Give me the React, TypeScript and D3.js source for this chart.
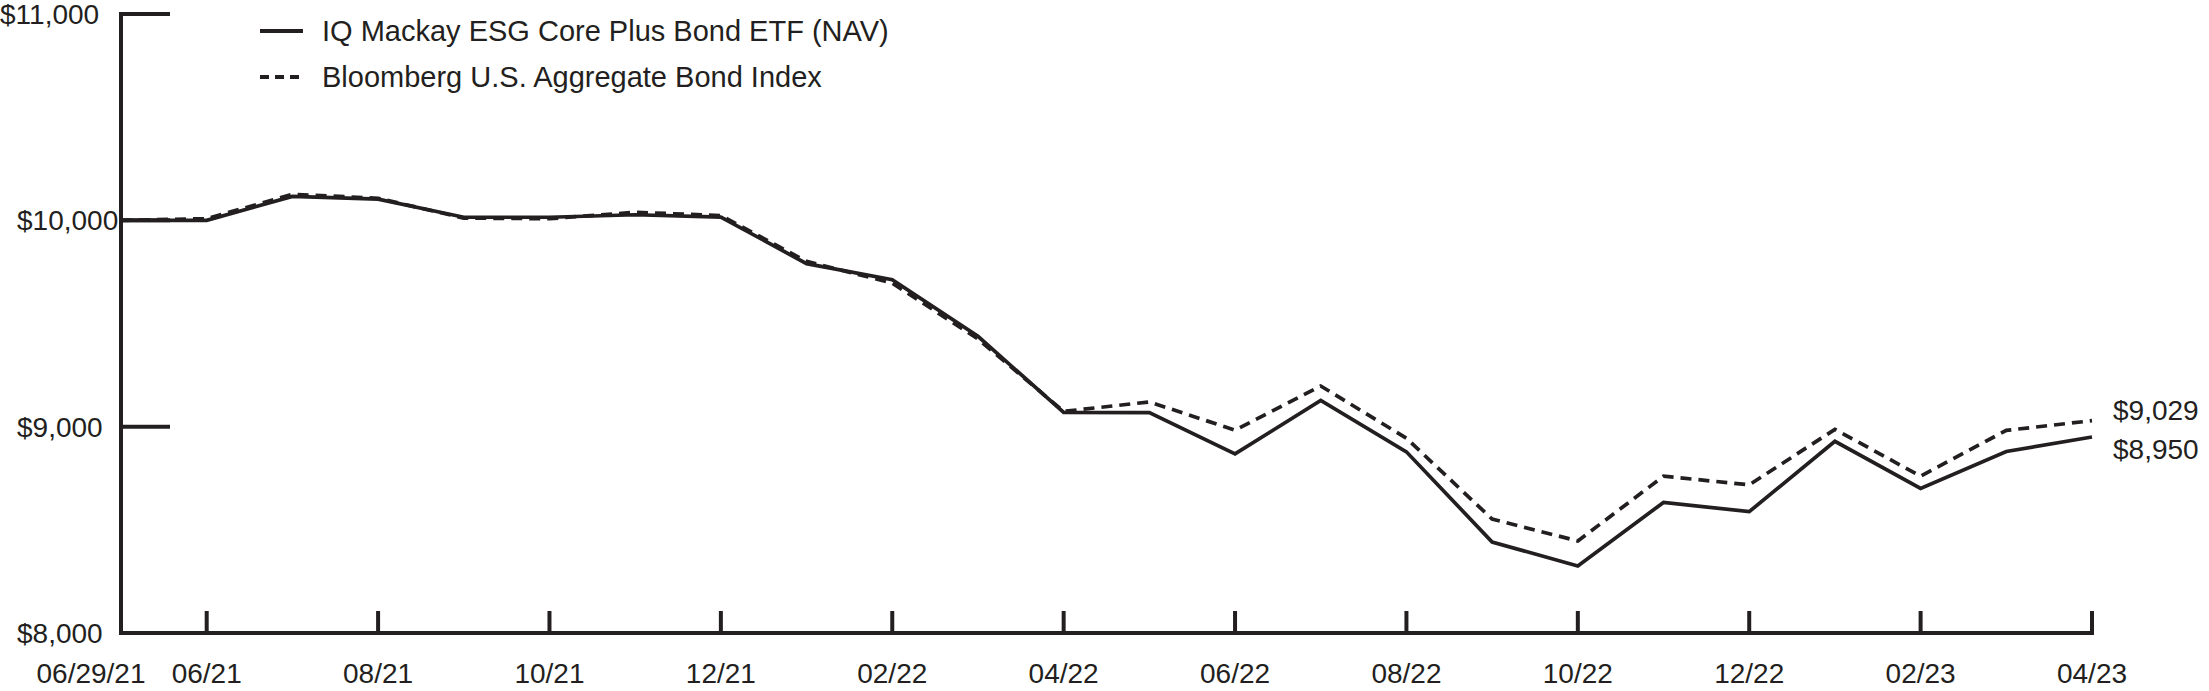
import React from "react";
import * as d3 from "d3";

const dates = [
  "06/29/21", "06/21", "07/21", "08/21", "09/21", "10/21", "11/21", "12/21",
  "01/22", "02/22", "03/22", "04/22", "05/22", "06/22", "07/22", "08/22",
  "09/22", "10/22", "11/22", "12/22", "01/23", "02/23", "03/23", "04/23",
];
const fundValues = [
  10000, 10000, 10116, 10103, 10015, 10015, 10027, 10016, 9790, 9712, 9438, 9069,
  9068, 8868, 9127, 8878, 8441, 8325, 8633, 8588, 8929, 8701, 8880, 8950,
];
const indexValues = [
  10000, 10008, 10126, 10107, 10011, 10008, 10039, 10023, 9801, 9696, 9425, 9074,
  9120, 8983, 9197, 8944, 8552, 8446, 8760, 8718, 8987, 8760, 8982, 9029,
];
const yTicks = [8000, 9000, 10000, 11000];
const tickLabels = ["06/21", "08/21", "10/21", "12/21", "02/22", "04/22", "06/22", "08/22", "10/22", "12/22", "02/23", "04/23"];
const seriesNames = ["IQ Mackay ESG Core Plus Bond ETF (NAV)", "Bloomberg U.S. Aggregate Bond Index"];
const endLabels = ["$8,950", "$9,029"];

const INK = "#231f20";
const FONT = "'Liberation Sans', Arial, sans-serif";

export default function App() {
  const W = 2209, H = 691;
  const x = d3.scalePoint<string>().domain(dates).range([121, 2092]);
  const y = d3.scaleLinear().domain([8000, 11000]).range([633, 14]);
  const line = d3
    .line<number>()
    .x((_, i) => x(dates[i]) as number)
    .y((d) => y(d));
  const fmt = (v: number) => "$" + d3.format(",")(v);
  const x0 = x(dates[0]) as number;
  const xEnd = x(dates[dates.length - 1]) as number;

  return (
    <svg
      width={W}
      height={H}
      style={{ position: "absolute", left: 0, top: 0, background: "#fff" }}
      fontFamily={FONT}
    >
      {/* y axis */}
      <line x1={x0} x2={x0} y1={y(11000) - 2} y2={y(8000) + 2} stroke={INK} strokeWidth={4} />
      {yTicks.map((t) => (
        <g key={t}>
          {t !== 8000 && (
            <line x1={x0} x2={x0 + 49} y1={y(t)} y2={y(t)} stroke={INK} strokeWidth={4} />
          )}
          <text
            x={t === 11000 ? 0 : 17}
            y={y(t)}
            dy="0.36em"
            fontSize={28}
            fill={INK}
          >
            {fmt(t)}
          </text>
        </g>
      ))}
      {/* x axis */}
      <line x1={x0 - 2} x2={xEnd + 2} y1={y(8000)} y2={y(8000)} stroke={INK} strokeWidth={4} />
      {tickLabels.map((lab) => {
        const px = x(lab) as number;
        return (
          <g key={lab}>
            <line x1={px} x2={px} y1={y(8000)} y2={y(8000) - 22} stroke={INK} strokeWidth={4} />
            <text x={px} y={683} textAnchor="middle" fontSize={28} fill={INK}>
              {lab}
            </text>
          </g>
        );
      })}
      <text x={x0 - 30} y={683} textAnchor="middle" fontSize={28} fill={INK}>
        {dates[0]}
      </text>

      {/* series */}
      <path d={line(indexValues) || ""} fill="none" stroke={INK} strokeWidth={3.7} strokeDasharray="11 7" />
      <path d={line(fundValues) || ""} fill="none" stroke={INK} strokeWidth={3.7} />

      {/* end labels */}
      <text x={xEnd + 21} y={y(fundValues[fundValues.length - 1]) + 12} dy="0.36em" fontSize={28} fill={INK}>
        {endLabels[0]}
      </text>
      <text x={xEnd + 21} y={y(indexValues[indexValues.length - 1]) - 11} dy="0.36em" fontSize={28} fill={INK}>
        {endLabels[1]}
      </text>

      {/* legend */}
      <line x1={260} x2={303} y1={31} y2={31} stroke={INK} strokeWidth={4} />
      <text x={322} y={31} dy="0.36em" fontSize={29} fill={INK}>
        {seriesNames[0]}
      </text>
      <line x1={260} x2={303} y1={77} y2={77} stroke={INK} strokeWidth={4} strokeDasharray="9 6" />
      <text x={322} y={77} dy="0.36em" fontSize={29} fill={INK}>
        {seriesNames[1]}
      </text>
    </svg>
  );
}
